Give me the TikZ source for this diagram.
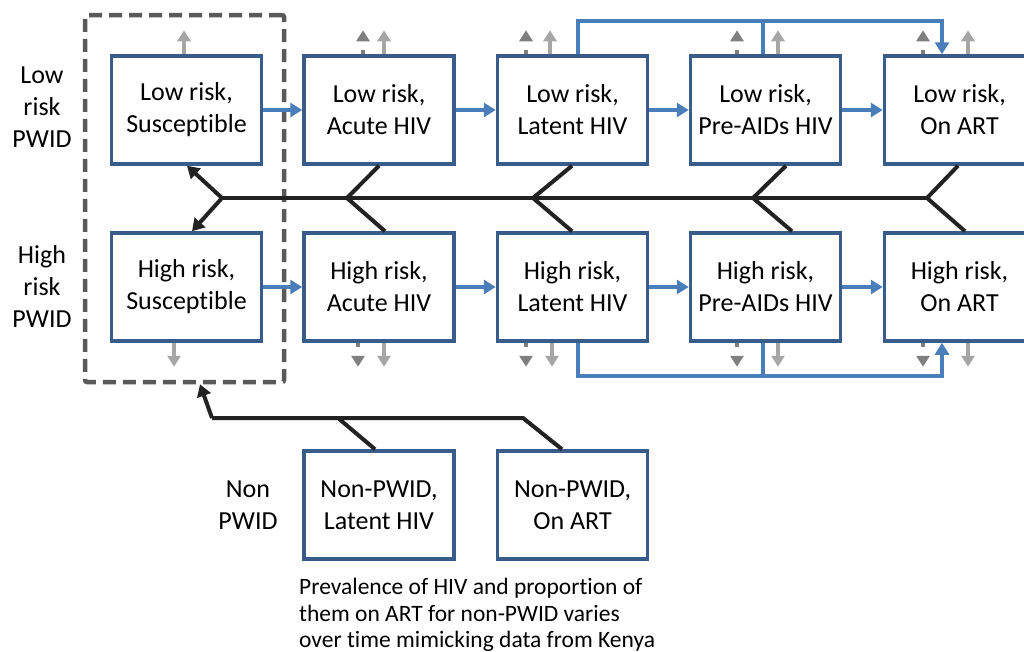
\documentclass[tikz,border=0pt]{standalone}
\usepackage{fontspec}
\setmainfont{Carlito}[RawFeature={-liga;-clig;-dlig;-calt}]
\usetikzlibrary{arrows.meta}
\definecolor{boxblue}{RGB}{56,93,138}
\definecolor{flowblue}{RGB}{74,126,187}
\definecolor{grpgray}{RGB}{89,89,89}
\definecolor{lgray}{RGB}{166,166,166}
\definecolor{dgray}{RGB}{127,127,127}
\definecolor{blk}{RGB}{34,34,34}
\tikzset{
  box/.style={draw=boxblue, line width=3.5pt, fill=white, minimum width=150pt, minimum height=108pt, align=center, inner sep=0pt, font=\fontsize{26}{32}\selectfont},
  lbl/.style={align=center, inner sep=0pt, font=\fontsize{26}{32}\selectfont},
  captxt/.style={anchor=base west, inner sep=0pt, font=\fontsize{23.5}{27}\selectfont},
  flow/.style={draw=flowblue, line width=4pt, -{Triangle[length=12pt,width=14pt]}},
  bypass/.style={draw=flowblue, line width=4pt},
  lga/.style={draw=lgray, line width=4pt, -{Triangle[length=11pt,width=13pt]}},
  dga/.style={draw=dgray, line width=4pt, dash pattern=on 4pt off 30pt, -{Triangle[length=11pt,width=13pt]}},
  blkline/.style={draw=blk, line width=4pt, line join=miter},
  blkarrow/.style={draw=blk, line width=4pt, -{Triangle[length=12pt,width=14pt]}},
  grp/.style={draw=grpgray, line width=4.5pt, dash pattern=on 13pt off 7pt, rounded corners=2pt, minimum width=199pt, minimum height=367pt, inner sep=0pt}
}
\begin{document}
\begin{tikzpicture}[x=1pt,y=-1pt]
\useasboundingbox (0,0) rectangle (1024,651);
\clip (0,0) rectangle (1024,651);
% group
\node[grp] (grp) at (184.5,198.5) {};
% boxes
\node[box] (ls) at (186.5,110) {Low risk,\\Susceptible};
\node[box] (la) at (379,110) {Low risk,\\Acute HIV};
\node[box] (ll) at (572.5,110) {Low risk,\\Latent HIV};
\node[box] (lp) at (765.5,110) {Low risk,\\Pre-AIDs HIV};
\node[box] (lo) at (959.5,110) {Low risk,\\On ART};
\node[box] (hs) at (186.5,287) {High risk,\\Susceptible};
\node[box] (ha) at (379,287) {High risk,\\Acute HIV};
\node[box] (hl) at (572.5,287) {High risk,\\Latent HIV};
\node[box] (hp) at (765.5,287) {High risk,\\Pre-AIDs HIV};
\node[box] (ho) at (959.5,287) {High risk,\\On ART};
\node[box] (nl) at (379,505) {Non-PWID,\\Latent HIV};
\node[box] (no) at (572.5,505) {Non-PWID,\\On ART};
% labels
\node[lbl] (tlow) at (42,107) {Low\\risk\\PWID};
\node[lbl] (thigh) at (42,286) {High\\risk\\PWID};
\node[lbl] (tnon) at (248,505) {Non\\PWID};
\node[captxt] (c1) at (299,594) {Prevalence of HIV and proportion of};
\node[captxt] (c2) at (299,621) {them on ART for non-PWID varies};
\node[captxt] (c3) at (299,647) {over time mimicking data from Kenya};
% flows
\draw[flow] (ls.east) -- (la.west);
\draw[flow] (la.east) -- (ll.west);
\draw[flow] (ll.east) -- (lp.west);
\draw[flow] (lp.east) -- (lo.west);
\draw[flow] (hs.east) -- (ha.west);
\draw[flow] (ha.east) -- (hl.west);
\draw[flow] (hl.east) -- (hp.west);
\draw[flow] (hp.east) -- (ho.west);
% bypass
\draw[bypass] ([xshift=-2.5pt]lp.north) -- ++(0,-33);
\draw[flow] ([xshift=5pt]ll.north) -- ++(0,-33) -| ([xshift=-17.5pt]lo.north);
\draw[bypass] ([xshift=-2.5pt]hp.south) -- ++(0,33);
\draw[flow] ([xshift=5pt]hl.south) -- ++(0,33) -| ([xshift=-17.5pt]ho.south);
% gray arrows top
\draw[lga] ([xshift=-2.5pt]ls.north) -- ++(0,-24);
\draw[dga] ([xshift=-16pt]la.north) -- ++(0,-24);
\draw[lga] ([xshift=5pt]la.north) -- ++(0,-24);
\draw[dga] ([xshift=-46.5pt]ll.north) -- ++(0,-24);
\draw[lga] ([xshift=-22.5pt]ll.north) -- ++(0,-24);
\draw[dga] ([xshift=-28.5pt]lp.north) -- ++(0,-24);
\draw[lga] ([xshift=12.5pt]lp.north) -- ++(0,-24);
\draw[dga] ([xshift=-36.5pt]lo.north) -- ++(0,-24);
\draw[lga] ([xshift=8.5pt]lo.north) -- ++(0,-24);
% gray arrows bottom
\draw[lga] ([xshift=-12.5pt]hs.south) -- ++(0,24);
\draw[dga] ([xshift=-21pt]ha.south) -- ++(0,24);
\draw[lga] ([xshift=5pt]ha.south) -- ++(0,24);
\draw[dga] ([xshift=-46.5pt]hl.south) -- ++(0,24);
\draw[lga] ([xshift=-20.5pt]hl.south) -- ++(0,24);
\draw[dga] ([xshift=-28.5pt]hp.south) -- ++(0,24);
\draw[lga] ([xshift=12.5pt]hp.south) -- ++(0,24);
\draw[dga] ([xshift=-36.5pt]ho.south) -- ++(0,24);
\draw[lga] ([xshift=8.5pt]ho.south) -- ++(0,24);
% black network
\coordinate (v1) at (222,198);
\coordinate (v2) at (347,198);
\coordinate (v3) at (533,198);
\coordinate (v4) at (753,198);
\coordinate (v5) at (927,198);
\draw[blkline] (v1) -- (v5);
\draw[blkarrow] (v1) -- ([xshift=0.5pt]ls.south);
\draw[blkarrow] (v1) -- ([xshift=5.5pt]hs.north);
\draw[blkline] (la.south) -- (v2) -- ([xshift=6pt]ha.north);
\draw[blkline] ([xshift=-0.5pt]ll.south) -- (v3) -- ([xshift=-0.5pt]hl.north);
\draw[blkline] ([xshift=20.5pt]lp.south) -- (v4) -- ([xshift=26.5pt]hp.north);
\draw[blkline] ([xshift=-1.5pt]lo.south) -- (v5) -- ([xshift=5.5pt]ho.north);
% non-PWID
\coordinate (n1) at (338,418);
\coordinate (n2) at (523,418);
\coordinate (n0) at (212,418);
\draw[blkline] ([xshift=-4pt]nl.north) -- (n1);
\draw[blkline] ([xshift=-10.5pt]no.north) -- (n2) -- (n0);
\draw[blkarrow] (n0) -- ([xshift=15.5pt]grp.south);
\end{tikzpicture}
\end{document}
